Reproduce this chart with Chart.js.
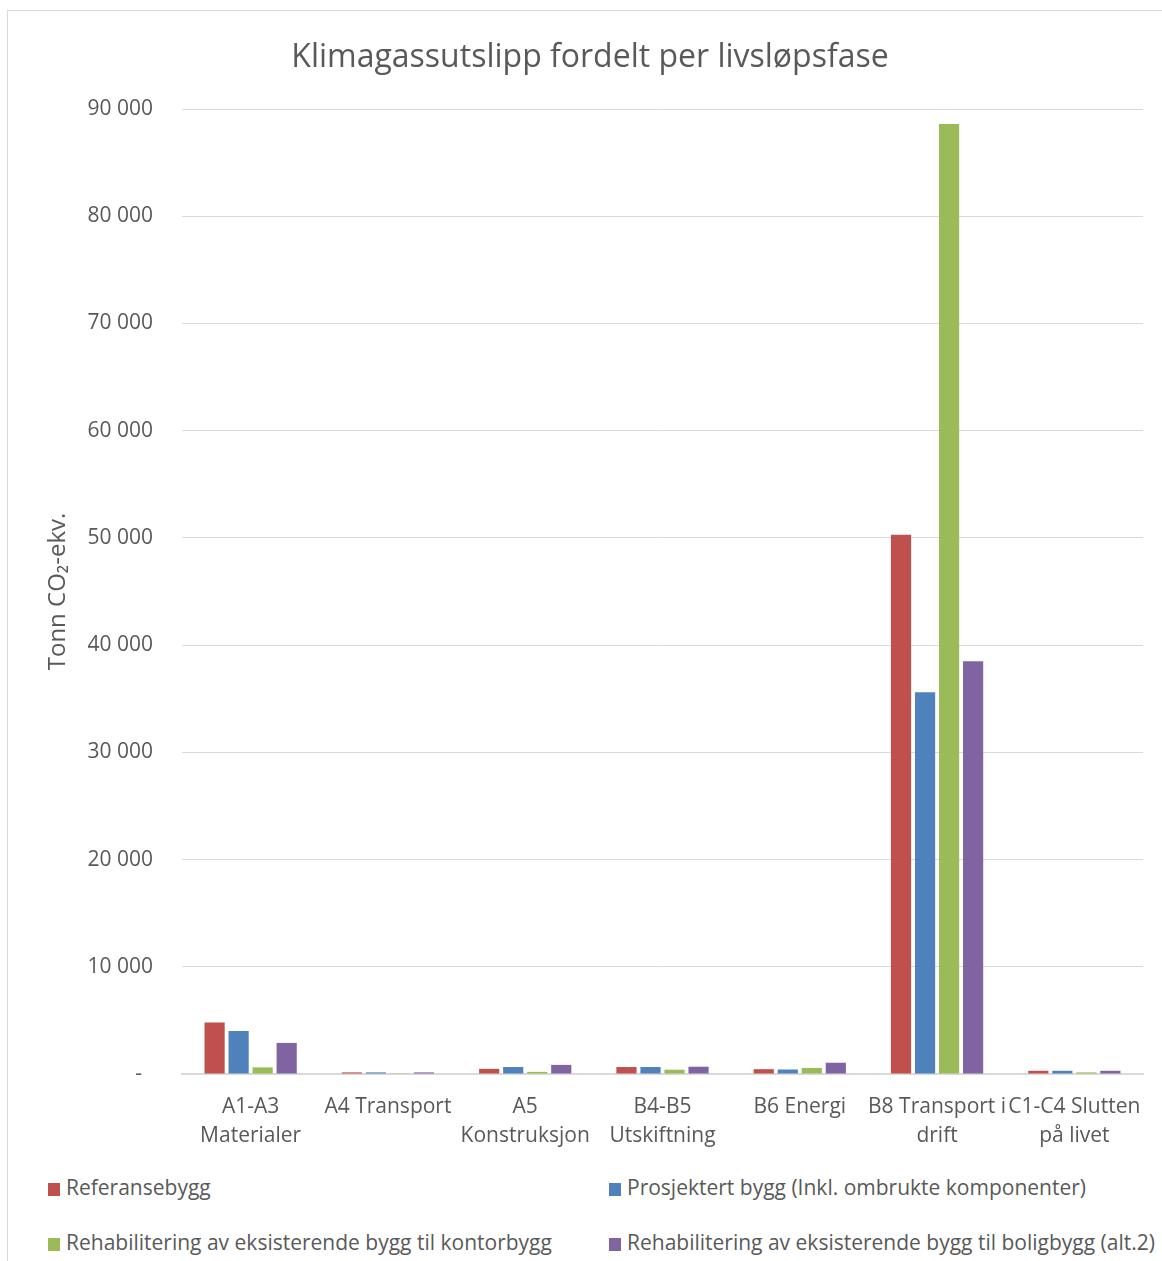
<!DOCTYPE html>
<html>
<head>
<meta charset="utf-8">
<script src="https://cdn.jsdelivr.net/npm/chart.js@4.4.0/dist/chart.umd.min.js"></script>
<style>
  body { margin: 0; background: #fff; font-family: "Open Sans", sans-serif; }
  #frame { position: absolute; left: 7px; top: 10px; width: 1200px; height: 1300px; border: 1px solid #d9d9d9; box-sizing: border-box; }
  #wrap { position: absolute; left: 0; top: 0; width: 1162px; height: 1160px; }
  #legend { position: absolute; left: 0; top: 1160px; width: 1162px; color: #595959; font-size: 21px; }
  .item { position: absolute; white-space: nowrap; line-height: 28px; }
  .box { display: inline-block; width: 12px; height: 13px; margin-right: 6px; vertical-align: -1px; }
</style>
</head>
<body>
<div id="frame"></div>
<div id="wrap"><canvas id="myChart" width="1162" height="1160"></canvas></div>
<div id="legend"></div>
<script>
const kategorier = [
    ['A1-A3', 'Materialer'],
    'A4 Transport',
    ['A5', 'Konstruksjon'],
    ['B4-B5', 'Utskiftning'],
    'B6 Energi',
    ['B8 Transport i', 'drift'],
    ['C1-C4 Slutten', 'på livet']
];
const serieNavn = [
    'Referansebygg',
    'Prosjektert bygg (Inkl. ombrukte komponenter)',
    'Rehabilitering av eksisterende bygg til kontorbygg',
    'Rehabilitering av eksisterende bygg til boligbygg (alt.2)'
];
const referansebygg = [4800, 150, 480, 650, 450, 50300, 300];
const prosjektert = [4000, 150, 650, 650, 420, 35600, 300];
const rehabKontor = [620, 30, 200, 400, 560, 88600, 150];
const rehabBolig = [2900, 150, 850, 680, 1050, 38500, 300];
const farger = ['#C0504D', '#4F81BD', '#9BBB59', '#8064A2'];

const verdier = [referansebygg, prosjektert, rehabKontor, rehabBolig];
const tekstFarge = '#595959';

function formater(v) {
    if (v === 0) return '-  ';
    return String(v).replace(/\B(?=(\d{3})+(?!\d))/g, ' ');
}

const ctx = document.getElementById('myChart').getContext('2d');
new Chart(ctx, {
    type: 'bar',
    data: {
        labels: kategorier,
        datasets: serieNavn.map((navn, i) => ({
            label: navn,
            data: verdier[i],
            backgroundColor: farger[i],
            categoryPercentage: 0.7,
            barPercentage: 0.84
        }))
    },
    options: {
        responsive: false,
        animation: false,
        layout: { padding: { left: 37, right: 19, top: 0, bottom: 0 } },
        plugins: {
            legend: { display: false },
            tooltip: { enabled: false },
            title: {
                display: true,
                text: 'Klimagassutslipp fordelt per livsløpsfase',
                color: tekstFarge,
                font: { family: 'Open Sans', size: 32, weight: 'normal', lineHeight: 1.2 },
                padding: { top: 39, bottom: 31.6 }
            }
        },
        scales: {
            x: {
                grid: { display: false, drawTicks: false },
                border: { color: '#d9d9d9', width: 2 },
                ticks: {
                    color: tekstFarge,
                    font: { family: 'Open Sans', size: 21, lineHeight: 1.4 },
                    padding: 18,
                    maxRotation: 0,
                    autoSkip: false
                },
                afterFit: s => { s.height = 86; }
            },
            y: {
                min: 0,
                max: 90000,
                grid: { color: '#d9d9d9', lineWidth: 1, drawTicks: false },
                border: { display: false },
                ticks: {
                    stepSize: 10000,
                    color: tekstFarge,
                    font: { family: 'Open Sans', size: 21 },
                    padding: 29,
                    callback: v => formater(v)
                },
                title: {
                    display: true,
                    text: 'Tonn CO₂-ekv.',
                    color: tekstFarge,
                    font: { family: 'Open Sans', size: 24, lineHeight: 1.2 },
                    padding: { top: 7, bottom: 0 }
                },
                afterFit: s => { s.width = 145; }
            }
        }
    }
});

// legende i to kolonner
const legend = document.getElementById('legend');
const pos = [[48, 13], [609, 13], [48, 68], [609, 68]];
serieNavn.forEach((navn, i) => {
    const el = document.createElement('div');
    el.className = 'item';
    el.style.left = pos[i][0] + 'px';
    el.style.top = pos[i][1] + 'px';
    el.innerHTML = '<span class="box" style="background:' + farger[i] + '"></span>' + navn;
    legend.appendChild(el);
});
</script>
</body>
</html>
